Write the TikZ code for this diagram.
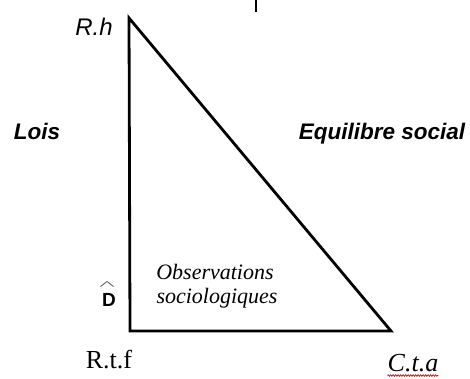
\documentclass[tikz,border=0pt]{standalone}
\usepackage{fontspec}
\setmainfont{Liberation Serif}
\setsansfont{Liberation Sans}
\usetikzlibrary{decorations.pathmorphing}
\begin{document}
\begin{tikzpicture}[x=1pt,y=-1pt,
  edge/.style={line width=2.8pt,line join=miter,black},
  sanslab/.style={font=\sffamily\itshape\fontsize{24}{26}\selectfont,inner sep=0pt},
  boldlab/.style={font=\sffamily\bfseries\itshape\fontsize{22.5}{24}\selectfont,inner sep=0pt},
  seriflab/.style={font=\itshape\fontsize{22}{24}\selectfont,inner sep=0pt},
  vertlab/.style={font=\fontsize{26}{28}\selectfont,inner sep=0pt}]
\useasboundingbox (0,0) rectangle (470,378);
\coordinate (top) at (129,18);
\coordinate (bl) at (130,331);
\coordinate (br) at (391,331);
\draw[edge] (top) -- (bl) -- (br) -- cycle;
\coordinate (tickA) at (256,0);
\coordinate (tickB) at (256,12);
\draw[line width=2pt] (tickA) -- (tickB);
\node[sanslab,anchor=base] (rh) at (94,35) {R.h};
\node[boldlab,anchor=base] (lois) at (37,139) {Lois};
\node[boldlab,anchor=base] (eq) at (382,139) {Equilibre social};
\node[font=\sffamily\bfseries\fontsize{19}{21}\selectfont,inner sep=0pt,anchor=base] (d) at (109,306) {D};
\coordinate (hatL) at (100.5,286.5);
\coordinate (hatM) at (107,281.5);
\coordinate (hatR) at (113.5,286.5);
\draw[gray!80!black,line width=0.9pt] (hatL) -- (hatM) -- (hatR);
\node[seriflab,anchor=base] (obs1) at (215,279) {Observations};
\node[seriflab,anchor=base] (obs2) at (217,303) {sociologiques};
\node[vertlab,anchor=base] (rtf) at (109,368) {R.t.f};
\node[vertlab,font=\itshape\fontsize{26}{28}\selectfont,anchor=base] (cta) at (413,371) {C.t.a};
\draw[red!80!black,line width=0.7pt,decorate,decoration={zigzag,amplitude=0.8pt,segment length=2.5pt}]
  ([yshift=-4.5pt]cta.base west) -- ([yshift=-4.5pt]cta.base east);
\end{tikzpicture}
\end{document}
